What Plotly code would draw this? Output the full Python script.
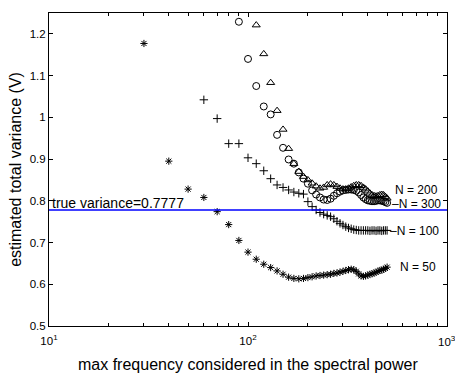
import plotly.graph_objects as go

freq = [30, 40, 50, 60, 70, 80, 90, 100, 110, 120, 130, 140, 150, 160, 170, 180,
        190, 200, 210, 220, 230, 240, 250, 260, 270, 280, 290, 300, 310, 320, 330,
        340, 350, 360, 370, 380, 390, 400, 410, 420, 430, 440, 450, 460, 470, 480,
        490, 500]

n50 = [1.177, 0.895, 0.828, 0.808, 0.774, 0.743, 0.705, 0.677, 0.660, 0.648,
       0.640, 0.632, 0.624, 0.617, 0.614, 0.613, 0.614, 0.616, 0.618, 0.620,
       0.621, 0.622, 0.623, 0.624, 0.626, 0.627, 0.629, 0.631, 0.633, 0.635,
       0.636, 0.635, 0.631, 0.625, 0.620, 0.619, 0.620, 0.622, 0.624, 0.625,
       0.627, 0.629, 0.631, 0.633, 0.634, 0.636, 0.638, 0.641]

n100 = [None, None, None, 1.042, 0.997, 0.937, 0.937, 0.903, 0.889, 0.872,
        0.853, 0.838, 0.832, 0.826, 0.821, 0.818, 0.816, 0.798, 0.786, 0.778,
        0.772, 0.768, 0.765, 0.762, 0.757, 0.751, 0.746, 0.742, 0.738, 0.735,
        0.733, 0.731, 0.730, 0.729, 0.729, 0.729, 0.729, 0.729, 0.728, 0.729,
        0.729, 0.728, 0.729, 0.729, 0.728, 0.729, 0.729, 0.729]

n200 = [None, None, None, None, None, None, None, None, 1.221, 1.152,
        1.083, 1.016, 0.971, 0.925, 0.889, 0.870, 0.858, 0.850, 0.842, 0.835,
        0.830, 0.832, 0.838, 0.840, 0.838, 0.834, 0.830, 0.828, 0.828, 0.830,
        0.833, 0.836, 0.838, 0.838, 0.836, 0.832, 0.828, 0.823, 0.818, 0.814,
        0.812, 0.811, 0.812, 0.814, 0.815, 0.814, 0.810, 0.806]

n300 = [None, None, None, None, None, None, 1.229, 1.140, 1.075, 1.026,
        1.007, 0.958, 0.927, 0.899, 0.889, 0.868, 0.853, 0.841, 0.825, 0.815,
        0.808, 0.803, 0.802, 0.805, 0.812, 0.818, 0.822, 0.825, 0.826, 0.827,
        0.827, 0.826, 0.824, 0.820, 0.814, 0.808, 0.804, 0.801, 0.800, 0.799,
        0.799, 0.800, 0.801, 0.801, 0.800, 0.799, 0.797, 0.795]

true_var = 0.7777

x_ticks = [10, 100]
x_ticktext = ["10<sup>1</sup>", "10<sup>2</sup>"]
x_edge_tick = 1000
x_edge_text = "10<sup>3</sup>"
y_ticks = [0.5, 0.6, 0.7, 0.8, 0.9, 1.0, 1.1, 1.2]
y_ticktext = ["0.5", "0.6", "0.7", "0.8", "0.9", "1", "1.1", "1.2"]
x_title = "max frequency considered in the spectral power"
y_title = "estimated total variance (V)"

series = [
    ("N = 50", n50, "asterisk-open", 6, 0.641),
    ("N = 100", n100, "cross-thin-open", 6, 0.727),
    ("N = 200", n200, "triangle-up-open", 7, 0.827),
    ("N = 300", n300, "circle-open", 7, 0.793),
]
label_text = {"N = 50": "N = 50", "N = 100": "\u2013N = 100",
              "N = 200": "N = 200", "N = 300": "\u2013N = 300"}
label_x = {"N = 50": 2.754, "N = 100": 2.704, "N = 200": 2.729, "N = 300": 2.714}

fig = go.Figure()
for name, vals, sym, size, ly in series:
    fig.add_trace(go.Scatter(
        x=freq, y=vals, mode="markers", name=name,
        marker=dict(symbol=sym, size=size, color="black",
                    line=dict(color="black", width=1)),
        showlegend=False))

fig.add_shape(type="line", xref="paper", x0=0, x1=1, yref="y",
              y0=true_var, y1=true_var, line=dict(color="#0000ff", width=1.5))

annotations = [dict(x=1, y=true_var, xref="x", yref="y", xanchor="left",
                    yanchor="bottom", xshift=1, yshift=-3, showarrow=False,
                    text="true variance=%.4f" % true_var,
                    font=dict(size=14, color="black"))]
for name, vals, sym, size, ly in series:
    annotations.append(dict(x=label_x[name], y=ly, xref="x", yref="y",
                            xanchor="left", yanchor="middle", showarrow=False,
                            text=label_text[name],
                            font=dict(size=12, color="black")))
# x tick label at the right edge
annotations.append(dict(x=3, y=0, xref="x", yref="paper", xanchor="center",
                        yanchor="top", yshift=-6, showarrow=False,
                        text=x_edge_text, font=dict(size=11.5, color="black")))
# x axis title
annotations.append(dict(x=0.5, y=0, xref="paper", yref="paper", xanchor="center",
                        yanchor="middle", yshift=-38, showarrow=False,
                        text=x_title, font=dict(size=16, color="black")))

fig.update_layout(
    width=455, height=374,
    margin=dict(l=49, r=8, t=13, b=48),
    paper_bgcolor="white", plot_bgcolor="white",
    font=dict(family="Liberation Sans, Arial, sans-serif", color="black"),
    annotations=annotations,
)
fig.update_xaxes(
    type="log", range=[1, 3], showgrid=False, zeroline=False, automargin=False,
    showline=True, linecolor="black", linewidth=1, mirror="ticks",
    ticks="inside", ticklen=4, tickcolor="black",
    tickvals=x_ticks, ticktext=x_ticktext, ticklabelstandoff=4,
    tickfont=dict(size=11.5),
    minor=dict(ticks="inside", ticklen=3, tickcolor="black",
               tickvals=[20, 30, 40, 50, 60, 70, 80, 90,
                         200, 300, 400, 500, 600, 700, 800, 900]),
)
fig.update_yaxes(
    range=[0.5, 1.25], showgrid=False, zeroline=False, automargin=False,
    showline=True, linecolor="black", linewidth=1, mirror="ticks",
    ticks="inside", ticklen=4, tickcolor="black",
    tickvals=y_ticks, ticktext=y_ticktext,
    tickfont=dict(size=11.5),
    title=dict(text=y_title, font=dict(size=16), standoff=4),
)

fig.write_html("out.html")
